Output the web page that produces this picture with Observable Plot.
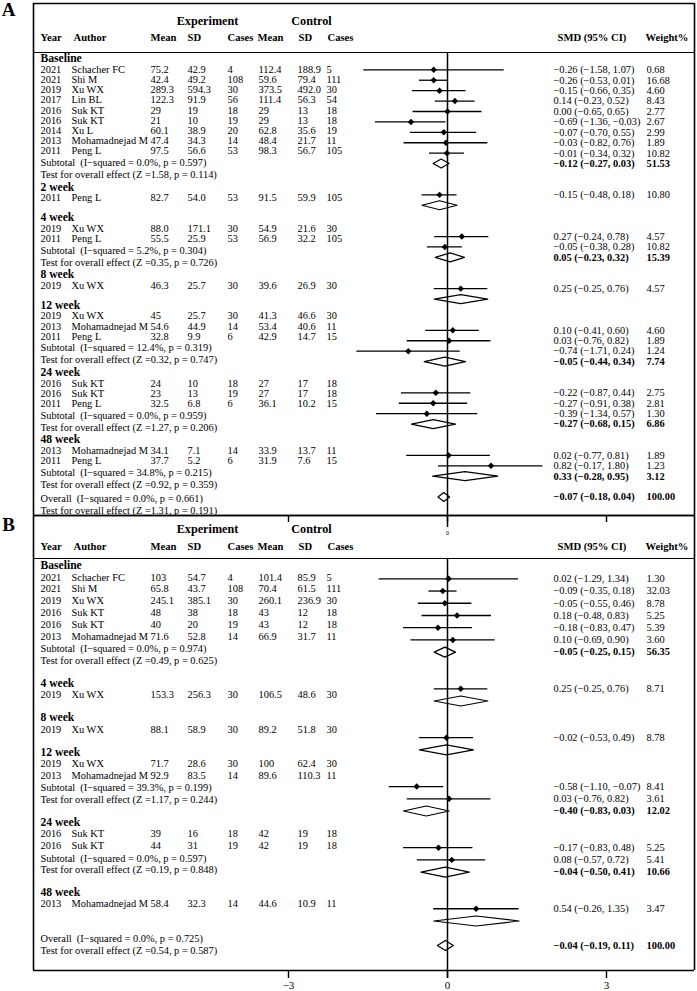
<!DOCTYPE html>
<html><head><meta charset="utf-8">
<script src="https://cdn.jsdelivr.net/npm/d3@7"></script>
<script src="https://cdn.jsdelivr.net/npm/@observablehq/plot@0.6"></script>
<style>body{margin:0;background:#fff}</style>
</head><body><div id="chart"></div>
<script>
// ================= DATA: panel A =================
const groupsA = ["Baseline","2 week","4 week","8 week","12 week","24 week","48 week"];
const studyGroupA = [0,0,0,0,0,0,0,0,0,1,2,2,3,4,4,4,5,5,5,6,6];
const yearA = ["2021","2021","2019","2017","2016","2016","2014","2013","2011","2011","2019","2011","2019","2019","2013","2011","2016","2016","2011","2013","2011"];
const authorA = ["Schacher FC","Shi M","Xu WX","Lin BL","Suk KT","Suk KT","Xu L","Mohamadnejad M","Peng L","Peng L","Xu WX","Peng L","Xu WX","Xu WX","Mohamadnejad M","Peng L","Suk KT","Suk KT","Peng L","Mohamadnejad M","Peng L"];
const expMeanA = ["75.2","42.4","289.3","122.3","29","21","60.1","47.4","97.5","82.7","88.0","55.5","46.3","45","54.6","32.8","24","23","32.5","34.1","37.7"];
const expSdA = ["42.9","49.2","594.3","91.9","19","10","38.9","34.3","56.6","54.0","171.1","25.9","25.7","25.7","44.9","9.9","10","13","6.8","7.1","5.2"];
const expNA = [4,108,30,56,18,19,20,14,53,53,30,53,30,30,14,6,18,19,6,14,6];
const ctlMeanA = ["112.4","59.6","373.5","111.4","29","29","62.8","48.4","98.3","91.5","54.9","56.9","39.6","41.3","53.4","42.9","27","27","36.1","33.9","31.9"];
const ctlSdA = ["188.9","79.4","492.0","56.3","13","13","35.6","21.7","56.7","59.9","21.6","32.2","26.9","46.6","40.6","14.7","17","17","10.2","13.7","7.6"];
const ctlNA = [5,111,30,54,18,18,19,11,105,105,30,105,30,30,11,15,18,18,15,11,15];
const smdA = [-0.26,-0.26,-0.15,0.14,0.00,-0.69,-0.07,-0.03,-0.01,-0.15,0.27,-0.05,0.25,0.10,0.03,-0.74,-0.22,-0.27,-0.39,0.02,0.82];
const loA = [-1.58,-0.53,-0.66,-0.23,-0.65,-1.36,-0.70,-0.82,-0.34,-0.48,-0.24,-0.38,-0.25,-0.41,-0.76,-1.71,-0.87,-0.91,-1.34,-0.77,-0.17];
const hiA = [1.07,0.01,0.35,0.52,0.65,-0.03,0.55,0.76,0.32,0.18,0.78,0.28,0.76,0.60,0.82,0.24,0.44,0.38,0.57,0.81,1.80];
const weightA = [0.68,16.68,4.60,8.43,2.77,2.67,2.99,1.89,10.82,10.80,4.57,10.82,4.57,4.60,1.89,1.24,2.75,2.81,1.30,1.89,1.23];
const subSmdA = [-0.12,-0.15,0.05,0.25,-0.05,-0.27,0.33];
const subLoA = [-0.27,-0.48,-0.23,-0.25,-0.44,-0.68,-0.28];
const subHiA = [0.03,0.18,0.32,0.76,0.34,0.15,0.95];
const subWeightA = [51.53,10.80,15.39,4.57,7.74,6.86,3.12];
const i2A = [0.0,null,5.2,null,12.4,0.0,34.8];
const pHetA = [0.597,null,0.304,null,0.319,0.959,0.215];
const zA = [1.58,null,0.35,null,0.32,1.27,0.92];
const pZA = [0.114,null,0.726,null,0.747,0.206,0.359];
const overallA = [-0.07,-0.18,0.04,100.00]; // smd, lo, hi, weight
const overallStatsA = [0.0,0.661,1.31,0.191]; // I2, p(het), Z, p

// ================= DATA: panel B =================
const groupsB = ["Baseline","4 week","8 week","12 week","24 week","48 week"];
const studyGroupB = [0,0,0,0,0,0,1,2,3,3,4,4,5];
const yearB = ["2021","2021","2019","2016","2016","2013","2019","2019","2019","2013","2016","2016","2013"];
const authorB = ["Schacher FC","Shi M","Xu WX","Suk KT","Suk KT","Mohamadnejad M","Xu WX","Xu WX","Xu WX","Mohamadnejad M","Suk KT","Suk KT","Mohamadnejad M"];
const expMeanB = ["103","65.8","245.1","48","40","71.6","153.3","88.1","71.7","92.9","39","44","58.4"];
const expSdB = ["54.7","43.7","385.1","38","20","52.8","256.3","58.9","28.6","83.5","16","31","32.3"];
const expNB = [4,108,30,18,19,14,30,30,30,14,18,19,14];
const ctlMeanB = ["101.4","70.4","260.1","43","43","66.9","106.5","89.2","100","89.6","42","42","44.6"];
const ctlSdB = ["85.9","61.5","236.9","12","12","31.7","48.6","51.8","62.4","110.3","19","19","10.9"];
const ctlNB = [5,111,30,18,18,11,30,30,30,11,18,18,11];
const smdB = [0.02,-0.09,-0.05,0.18,-0.18,0.10,0.25,-0.02,-0.58,0.03,-0.17,0.08,0.54];
const loB = [-1.29,-0.35,-0.55,-0.48,-0.83,-0.69,-0.25,-0.53,-1.10,-0.76,-0.83,-0.57,-0.26];
const hiB = [1.34,0.18,0.46,0.83,0.47,0.90,0.76,0.49,-0.07,0.82,0.48,0.72,1.35];
const weightB = [1.30,32.03,8.78,5.25,5.39,3.60,8.71,8.78,8.41,3.61,5.25,5.41,3.47];
const subSmdB = [-0.05,0.25,-0.02,-0.40,-0.04,0.54];
const subLoB = [-0.25,-0.25,-0.53,-0.83,-0.50,-0.26];
const subHiB = [0.15,0.76,0.49,0.03,0.41,1.35];
const subWeightB = [56.35,8.71,8.78,12.02,10.66,3.47];
const i2B = [0.0,null,null,39.3,0.0,null];
const pHetB = [0.974,null,null,0.199,0.597,null];
const zB = [0.49,null,null,1.17,0.19,null];
const pZB = [0.625,null,null,0.244,0.848,null];
const overallB = [-0.04,-0.19,0.11,100.00];
const overallStatsB = [0.0,0.725,0.54,0.587];

const xTicks = [-3, 0, 3];
const headerLabels = ["Year","Author","Mean","SD","Cases","Mean","SD","Cases","SMD (95% CI)","Weight%"];
const armLabels = ["Experiment","Control"];

// ================= LAYOUT =================
const W = 697, H = 991, X0 = 447, PPU = 53;     // x: zero at 447px, 53px per SMD unit
const ux = p => (p - X0) / PPU;                  // pixel column -> x-scale value
const headerCols = [40, 73, 150, 187, 227, 257, 298, 327, 557, 645];
const armCols = [207, 311];
const cols = {year:40, author:71, em:150, es:187, en:227, cm:258, cs:297, cn:326, smd:553, w:646};
const FRAME_L = 33, FRAME_R = 694;

const layA = {y0:58, a:11, p:10.2, s:11.5, t:12, L:12.4, S:19.5, O:14.3,
  f0:58.9, fp:10.42, dh:4.5, top:3, bottom:515, headLine:52, titleY:21, headY:37,
  zeroBottom:527, tickLen:7, letterY:9, showTickLabels:false};
const layB = {y0:565, a:11.7, p:11.8, s:12.4, t:11.7, L:22.5, S:23, O:35,
  f0:566.1, fp:12.22, dh:5, top:515, bottom:970, headLine:558, titleY:529, headY:545.7,
  zeroBottom:978, tickLen:8, letterY:524, showTickLabels:true};

const minus = v => (v < 0 ? "\u2212" : "") + Math.abs(v).toFixed(2);
const ciText = (s, lo, hi) => `${minus(s)} (${minus(lo)}, ${minus(hi)})`;
const subText = (i2, p) => `Subtotal  (I\u2212squared = ${i2.toFixed(1)}%, p = ${p.toFixed(3)})`;
const testText = (z, p) => `Test for overall effect (Z =${z.toFixed(2)}, p = ${p.toFixed(3)})`;
const overallText = (i2, p) => `Overall  (I\u2212squared = ${i2.toFixed(1)}%, p = ${p.toFixed(3)})`;

function buildPanel(d, lay) {
  const studies = d.year.map((yr, i) => ({g: d.group[i], year: yr, author: d.author[i],
    em: d.expMean[i], es: d.expSd[i], en: String(d.expN[i]),
    cm: d.ctlMean[i], cs: d.ctlSd[i], cn: String(d.ctlN[i]),
    smd: d.smd[i], lo: d.lo[i], hi: d.hi[i], w: d.weight[i]}));
  const labels = [], subs = [], leftNotes = [];
  let r = 0, yL = lay.y0, prevSingle = false;
  d.groups.forEach((name, g) => {
    const st = studies.filter(s => s.g === g);
    const single = st.length === 1;
    if (g > 0) yL += prevSingle ? lay.S : lay.L;
    labels.push({name, yL});
    st.forEach((s, k) => { yL += k === 0 ? lay.a : lay.p; s.yL = yL; s.fy = lay.f0 + (r + 1 + k) * lay.fp; });
    const sub = {id: "g" + g, smd: d.subSmd[g], lo: d.subLo[g], hi: d.subHi[g], w: d.subW[g],
      fy: lay.f0 + (r + 1 + st.length) * lay.fp, single};
    if (!single) {
      yL += lay.s; leftNotes.push({yL, text: subText(d.i2[g], d.pHet[g])});
      yL += lay.t; leftNotes.push({yL, text: testText(d.z[g], d.pZ[g])});
    }
    subs.push(sub);
    r += st.length + 3;
    prevSingle = single;
  });
  yL += lay.O; leftNotes.push({yL, text: overallText(d.oStats[0], d.oStats[1])});
  yL += lay.t; leftNotes.push({yL, text: testText(d.oStats[2], d.oStats[3])});
  const overall = {id: "overall", smd: d.overall[0], lo: d.overall[1], hi: d.overall[2], w: d.overall[3],
    fy: lay.f0 + r * lay.fp, single: false};
  return {studies, labels, subs, leftNotes, overall};
}

function panelMarks(d, lay, letter) {
  const P = buildPanel(d, lay);
  const fs = "10.4px";
  const summaries = [...P.subs, P.overall];
  const bold = summaries.filter(s => !s.single);
  const verts = summaries.flatMap(s => [
    {id: s.id, x: s.lo, y: s.fy}, {id: s.id, x: s.smd, y: s.fy - lay.dh},
    {id: s.id, x: s.hi, y: s.fy}, {id: s.id, x: s.smd, y: s.fy + lay.dh},
    {id: s.id, x: s.lo, y: s.fy}]);
  const colText = (key) => Plot.text(P.studies, {x: ux(cols[key]), y: "yL", text: key,
    textAnchor: "start", fontSize: fs, fill: "black"});
  return [
    // frame
    Plot.ruleY([lay.top, lay.bottom], {x1: ux(FRAME_L), x2: ux(FRAME_R), stroke: "black", strokeWidth: 1.6}),
    Plot.ruleY([lay.headLine], {x1: ux(FRAME_L), x2: ux(FRAME_R), stroke: "black", strokeWidth: 1.2}),
    Plot.ruleX([ux(FRAME_L), ux(FRAME_R)], {y1: lay.top, y2: lay.bottom, stroke: "black", strokeWidth: 1.6}),
    // zero line & ticks
    Plot.ruleX([0], {y1: lay.headLine, y2: lay.zeroBottom, stroke: "black", strokeWidth: 1.5}),
    Plot.ruleX(xTicks, {y1: lay.bottom, y2: lay.bottom + lay.tickLen, stroke: "black", strokeWidth: 1.4}),
    lay.showTickLabels
      ? Plot.text(xTicks, {x: d => d, y: lay.bottom + 15, text: d => minus(d).replace(".00", ""), fontSize: "11px", fill: "black"})
      : Plot.text([0], {x: d => d, y: lay.zeroBottom + 6, text: d => String(d), fontSize: "6px", fill: "black"}),
    // letter
    Plot.text([letter], {x: ux(8), y: lay.letterY, text: d => d, fontSize: "19px", fontWeight: "bold", fill: "black"}),
    // headers
    Plot.text(armLabels, {x: (v, i) => ux(armCols[i]), y: lay.titleY, text: v => v, fontSize: "12.2px", fontWeight: "bold", fill: "black"}),
    Plot.text(headerLabels, {x: (v, i) => ux(headerCols[i]), y: lay.headY, text: v => v, textAnchor: "start", fontSize: "10.6px", fontWeight: "bold", fill: "black"}),
    // group labels
    Plot.text(P.labels, {x: ux(cols.year), y: "yL", text: "name", textAnchor: "start", fontSize: "11.6px", fontWeight: "bold", fill: "black"}),
    // table columns
    colText("year"), colText("author"), colText("em"), colText("es"), colText("en"),
    colText("cm"), colText("cs"), colText("cn"),
    Plot.text(P.leftNotes, {x: ux(cols.year), y: "yL", text: "text", textAnchor: "start", fontSize: fs, fill: "black"}),
    // forest: CIs, points, diamonds
    Plot.ruleY(P.studies, {y: "fy", x1: "lo", x2: "hi", stroke: "black", strokeWidth: 1.3}),
    Plot.dot(P.studies, {x: "smd", y: "fy", symbol: "diamond2", r: 2.9, fill: "black", stroke: "none"}),
    Plot.line(verts, {x: "x", y: "y", z: "id", stroke: "black", strokeWidth: 1.2, fill: "none"}),
    // right text
    Plot.text(P.studies, {x: ux(cols.smd), y: "fy", text: s => ciText(s.smd, s.lo, s.hi), textAnchor: "start", fontSize: fs, fill: "black"}),
    Plot.text(P.studies, {x: ux(cols.w), y: "fy", text: s => s.w.toFixed(2), textAnchor: "start", fontSize: fs, fill: "black"}),
    Plot.text(bold, {x: ux(cols.smd), y: "fy", text: s => ciText(s.smd, s.lo, s.hi), textAnchor: "start", fontSize: fs, fontWeight: "bold", fill: "black"}),
    Plot.text(bold, {x: ux(cols.w), y: "fy", text: s => s.w.toFixed(2), textAnchor: "start", fontSize: fs, fontWeight: "bold", fill: "black"})
  ];
}

const dataA = {groups: groupsA, group: studyGroupA, year: yearA, author: authorA, expMean: expMeanA, expSd: expSdA, expN: expNA,
  ctlMean: ctlMeanA, ctlSd: ctlSdA, ctlN: ctlNA, smd: smdA, lo: loA, hi: hiA, weight: weightA,
  subSmd: subSmdA, subLo: subLoA, subHi: subHiA, subW: subWeightA, i2: i2A, pHet: pHetA, z: zA, pZ: pZA,
  overall: overallA, oStats: overallStatsA};
const dataB = {groups: groupsB, group: studyGroupB, year: yearB, author: authorB, expMean: expMeanB, expSd: expSdB, expN: expNB,
  ctlMean: ctlMeanB, ctlSd: ctlSdB, ctlN: ctlNB, smd: smdB, lo: loB, hi: hiB, weight: weightB,
  subSmd: subSmdB, subLo: subLoB, subHi: subHiB, subW: subWeightB, i2: i2B, pHet: pHetB, z: zB, pZ: pZB,
  overall: overallB, oStats: overallStatsB};

const chart = Plot.plot({
  width: W, height: H, margin: 0,
  style: {fontFamily: "'Liberation Serif', 'Times New Roman', serif", background: "white", color: "black"},
  x: {type: "linear", domain: [ux(0), ux(W)], range: [0, W], axis: null},
  y: {type: "linear", domain: [0, H], range: [0, H], axis: null},
  marks: [...panelMarks(dataA, layA, "A"), ...panelMarks(dataB, layB, "B")]
});
document.getElementById("chart").appendChild(chart);
</script>
</body></html>
